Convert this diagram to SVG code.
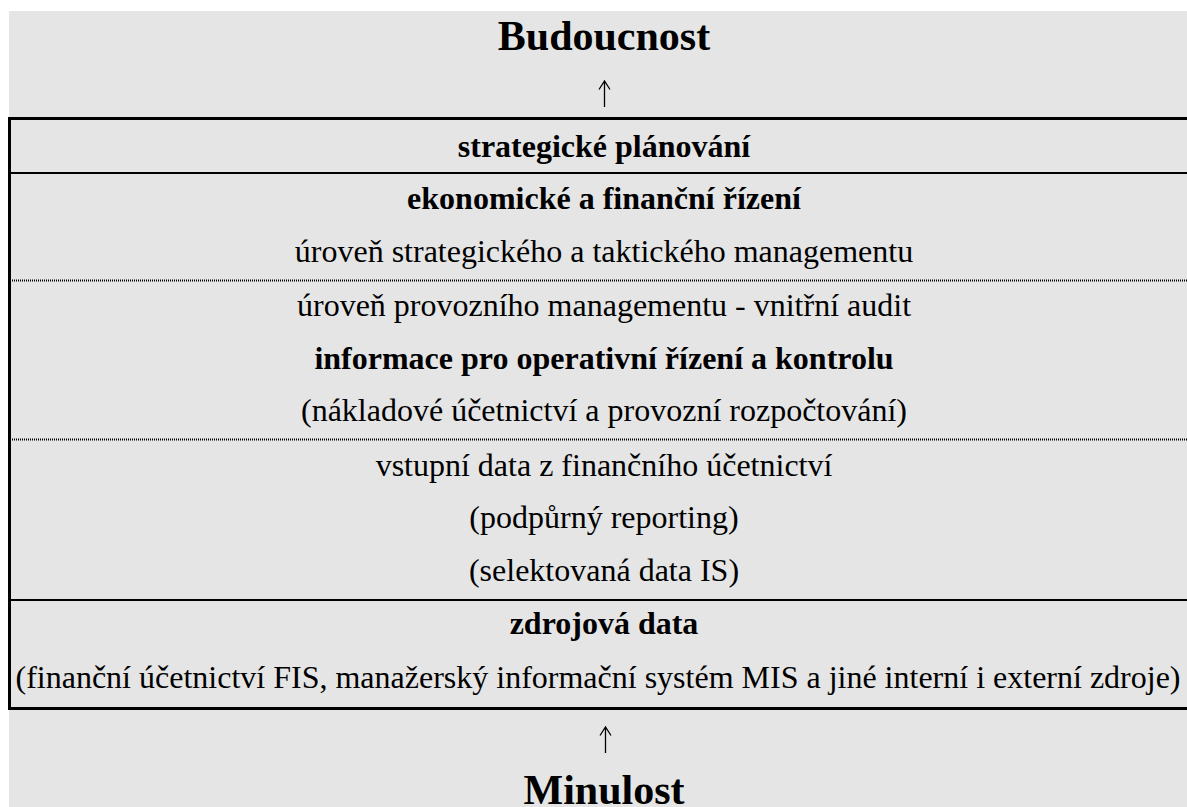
<svg xmlns="http://www.w3.org/2000/svg" width="1187" height="807" viewBox="0 0 1187 807">
<style>
text{font-family:"Liberation Serif","Times New Roman",serif;fill:#000;text-anchor:middle}
.t{font-size:32px}
.b{font-weight:bold}
.h{font-size:42px;font-weight:bold}
.solid{stroke:#000;fill:none}
.dot{stroke:#000;stroke-width:2;stroke-dasharray:1 1;fill:none}
.arrow{stroke:#000;stroke-width:1.3;fill:none}
</style>
<rect x="0" y="0" width="1187" height="807" fill="#fff"/>
<rect x="9" y="11" width="1178" height="796" fill="#e5e5e5"/>
<g id="frame">
<line class="solid" x1="8" y1="118.5" x2="1187" y2="118.5" stroke-width="3"/>
<line class="solid" x1="9.5" y1="117" x2="9.5" y2="710" stroke-width="3"/>
<line class="solid" x1="8" y1="708.5" x2="1187" y2="708.5" stroke-width="3"/>
<line class="solid" x1="11" y1="173" x2="1187" y2="173" stroke-width="2"/>
<line class="dot" x1="12" y1="280.5" x2="1187" y2="280.5"/>
<line class="dot" x1="12" y1="439.5" x2="1187" y2="439.5"/>
<line class="solid" x1="11" y1="600" x2="1187" y2="600" stroke-width="2"/>
</g>
<g id="future"><text class="h" x="604" y="50">Budoucnost</text></g>
<g id="connectors">
<path class="arrow" d="M604.5,107 V81 M599,89.5 L604.5,81 L610,89.5"/>
<path class="arrow" d="M605.5,753 V727 M600,735.5 L605.5,727 L611,735.5"/>
</g>
<g id="strategic"><text class="t b" x="604" y="157">strategické plánování</text></g>
<g id="economic">
<text class="t b" x="604" y="209">ekonomické a finanční řízení</text>
<text class="t" x="604" y="262">úroveň strategického a taktického managementu</text>
</g>
<g id="operational">
<text class="t" x="604" y="316">úroveň provozního managementu - vnitřní audit</text>
<text class="t b" x="604" y="369">informace pro operativní řízení a kontrolu</text>
<text class="t" x="604" y="421">(nákladové účetnictví a provozní rozpočtování)</text>
</g>
<g id="input">
<text class="t" x="604" y="476">vstupní data z finančního účetnictví</text>
<text class="t" x="604" y="528">(podpůrný reporting)</text>
<text class="t" x="604" y="581">(selektovaná data IS)</text>
</g>
<g id="source">
<text class="t b" x="604" y="634">zdrojová data</text>
<text class="t" x="598" y="688">(finanční účetnictví FIS, manažerský informační systém MIS a jiné interní i externí zdroje)</text>
</g>
<g id="past"><text class="h" x="604" y="804">Minulost</text></g>
</svg>
